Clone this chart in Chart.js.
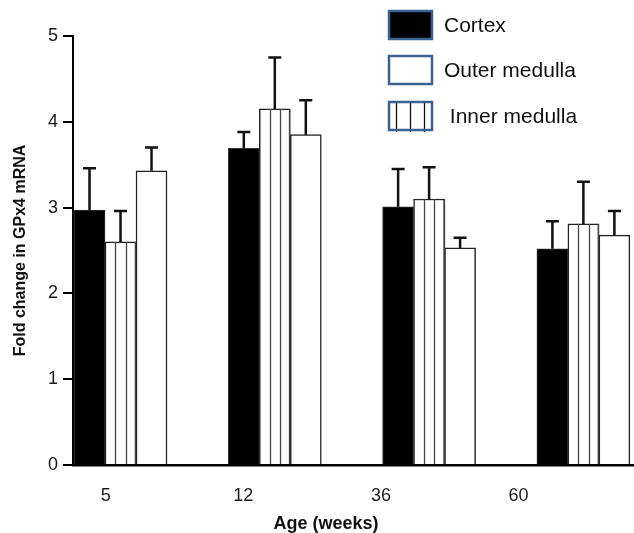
<!DOCTYPE html>
<html><head><meta charset="utf-8">
<script src="https://cdn.jsdelivr.net/npm/chart.js@4.4.1/dist/chart.umd.min.js"></script>
<style>html,body{margin:0;padding:0;background:#fff}#wrap{width:634px;height:533px}</style>
</head><body><div id="wrap"><canvas id="c" width="634" height="533"></canvas></div>
<script>
const categories = ['5', '12', '36', '60'];
const cortex = [2.97, 3.69, 3.01, 2.52];
const cortexErr = [0.49, 0.19, 0.44, 0.32];
const innerMedulla = [2.60, 4.15, 3.10, 2.81];
const innerErr = [0.36, 0.60, 0.37, 0.49];
const outerMedulla = [3.43, 3.85, 2.53, 2.68];
const outerErr = [0.27, 0.40, 0.12, 0.28];
const yTickValues = [0, 1, 2, 3, 4, 5];
const legendOrder = ['Cortex', 'Outer medulla', 'Inner medulla'];
const xTitle = 'Age (weeks)';
const yTitle = 'Fold change in GPx4 mRNA';

const FONT = "'Liberation Sans', Arial, sans-serif";
const toPoints = arr => arr.map((v, i) => ({x: i, y: v}));

const datasets = [
  {label: 'Cortex', data: toPoints(cortex), err: cortexErr, backgroundColor: '#000', borderColor: '#333', borderWidth: 1, kind: 'solid'},
  {label: 'Inner medulla', data: toPoints(innerMedulla), err: innerErr, backgroundColor: '#fff', borderColor: '#222', borderWidth: 1.5, kind: 'striped'},
  {label: 'Outer medulla', data: toPoints(outerMedulla), err: outerErr, backgroundColor: '#fff', borderColor: '#222', borderWidth: 1.5, kind: 'open'}
];

const stripePlugin = {
  id: 'stripes',
  afterDatasetsDraw(chart) {
    const ctx = chart.ctx;
    chart.data.datasets.forEach((ds, di) => {
      if (ds.kind !== 'striped') return;
      const meta = chart.getDatasetMeta(di);
      meta.data.forEach(el => {
        const w = el.width, left = el.x - w / 2;
        ctx.save();
        ctx.strokeStyle = '#444';
        ctx.lineWidth = 1.3;
        [1 / 3, 2 / 3, 0.97].forEach(f => {
          const x = Math.round(left + w * f) + 0.5;
          ctx.beginPath(); ctx.moveTo(x, el.y); ctx.lineTo(x, el.base); ctx.stroke();
        });
        ctx.restore();
      });
    });
  }
};

const errorBarPlugin = {
  id: 'errorBars',
  afterDatasetsDraw(chart) {
    const ctx = chart.ctx, ys = chart.scales.y;
    chart.data.datasets.forEach((ds, di) => {
      const meta = chart.getDatasetMeta(di);
      meta.data.forEach((el, i) => {
        const top = ys.getPixelForValue(ds.data[i].y + ds.err[i]);
        ctx.save();
        ctx.strokeStyle = '#111';
        ctx.lineWidth = 2.5;
        ctx.beginPath();
        ctx.moveTo(el.x, el.y); ctx.lineTo(el.x, top);
        ctx.moveTo(el.x - 6.5, top); ctx.lineTo(el.x + 6.5, top);
        ctx.stroke();
        ctx.restore();
      });
    });
  }
};

const legendPlugin = {
  id: 'customLegend',
  afterDraw(chart) {
    const ctx = chart.ctx;
    const rows = [{top: 11, textX: 444}, {top: 56, textX: 444}, {top: 102, textX: 444}];
    legendOrder.forEach((name, k) => {
      const ds = chart.data.datasets.find(d => d.label === name);
      const r = rows[k];
      const bx = 389, bw = 43, bh = 28;
      ctx.save();
      ctx.fillStyle = ds.backgroundColor;
      ctx.fillRect(bx, r.top, bw, bh);
      if (ds.kind === 'striped') {
        ctx.strokeStyle = '#111'; ctx.lineWidth = 1.3;
        [396, 410, 424].forEach(x => { ctx.beginPath(); ctx.moveTo(x + 0.5, r.top); ctx.lineTo(x + 0.5, r.top + bh + 2); ctx.stroke(); });
      }
      ctx.strokeStyle = '#3d6191'; ctx.lineWidth = 2.5;
      ctx.strokeRect(bx, r.top, bw, bh);
      ctx.fillStyle = '#111';
      ctx.font = '21px ' + FONT;
      ctx.textBaseline = 'middle';
      ctx.textAlign = 'left';
      ctx.fillText(name === 'Inner medulla' ? ' ' + name : name, r.textX, r.top + bh / 2 + 1);
      ctx.restore();
    });
  }
};

const xTitlePlugin = {
  id: 'xTitle',
  afterDraw(chart) {
    const ctx = chart.ctx;
    ctx.save();
    ctx.fillStyle = '#111';
    ctx.font = 'bold 18px ' + FONT;
    ctx.textAlign = 'center';
    ctx.textBaseline = 'middle';
    ctx.fillText(xTitle, 326, 524);
    ctx.restore();
  }
};

new Chart(document.getElementById('c'), {
  type: 'bar',
  data: {datasets},
  options: {
    responsive: false,
    animation: false,
    barThickness: 31,
    layout: {padding: {top: 36, left: 0, right: 0, bottom: 0}},
    plugins: {legend: {display: false}, tooltip: {enabled: false}},
    scales: {
      x: {
        type: 'linear', display: false, offset: false, min: -0.308, max: 3.328,
        afterBuildTicks: s => { s.ticks = categories.map((_, i) => ({value: i})); }
      },
      xl: {
        type: 'linear', position: 'bottom', offset: false, min: -0.238, max: 3.839,
        afterBuildTicks: s => { s.ticks = categories.map((_, i) => ({value: i})); },
        afterFit: s => { s.height = 68; },
        grid: {display: false, drawTicks: false, offset: false},
        border: {display: true, color: '#000', width: 2.5},
        ticks: {padding: 20, color: '#1a1a1a', font: {family: FONT, size: 18}, maxRotation: 0,
                callback: (v, i) => categories[i]}
      },
      y: {
        min: 0, max: 5,
        afterBuildTicks: s => { s.ticks = yTickValues.map(v => ({value: v})); },
        afterFit: s => { s.width = 73; },
        grid: {display: true, drawOnChartArea: false, drawTicks: true, tickLength: 10, color: '#000', lineWidth: 2},
        border: {display: true, color: '#000', width: 2},
        ticks: {padding: 5, color: '#1a1a1a', font: {family: FONT, size: 18}},
        title: {display: true, text: yTitle, color: '#111', padding: {top: 11, bottom: 0},
                font: {family: FONT, size: 16, weight: 'bold', lineHeight: 1.2}}
      }
    }
  },
  plugins: [stripePlugin, errorBarPlugin, legendPlugin, xTitlePlugin]
});
</script></body></html>
